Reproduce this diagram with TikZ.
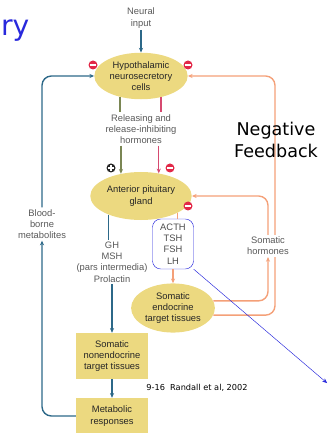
\documentclass[tikz,border=0pt]{standalone}
\usepackage{fontspec}
\setmainfont{Liberation Sans}
\newfontfamily\handfont{DejaVu Sans}
\usetikzlibrary{shapes.geometric,arrows.meta}
\definecolor{glandfill}{RGB}{236,217,128}
\definecolor{fbblue}{RGB}{44,104,136}
\definecolor{fborange}{RGB}{244,160,120}
\definecolor{fbolive}{RGB}{122,134,84}
\definecolor{fbpink}{RGB}{214,74,112}
\definecolor{minusred}{RGB}{226,40,72}
\definecolor{annblue}{RGB}{40,40,220}
\begin{document}
\begin{tikzpicture}[x=0.03cm,y=-0.03cm,>={Stealth[length=4pt,width=3.5pt]},
  txt/.style={font=\fontsize{8}{9.6}\selectfont,align=center,inner sep=1.5pt},
  lbl/.style={txt,text=black!65},
  gland/.style={ellipse,fill=glandfill,inner sep=0pt,txt,text=black!85},
  tissue/.style={rectangle,fill=glandfill,inner sep=0pt,txt,text=black!85},
  minus/.style={circle,fill=minusred,minimum size=0.27cm,inner sep=0pt,
    path picture={\draw[white,line width=1.2pt] (-2.3pt,0) -- (2.3pt,0);}},
  plus/.style={circle,fill=black!85,minimum size=0.27cm,inner sep=0pt,
    path picture={\draw[white,line width=1.2pt] (-2.3pt,0) -- (2.3pt,0) (0,-2.3pt) -- (0,2.3pt);}},
  fb/.style={line width=1.2pt,rounded corners=8pt},
  hand/.style={font=\handfont\fontsize{15}{19}\selectfont,align=center}]
\path[use as bounding box] (0,0) rectangle (331,433);

\node[gland,minimum width=2.46cm,minimum height=1.28cm] (hypo) at (141,76) {Hypothalamic\\neurosecretory\\cells};
\node[gland,minimum width=2.46cm,minimum height=1.44cm] (pit) at (141,196) {Anterior pituitary\\gland};
\node[gland,minimum width=2.43cm,minimum height=1.36cm] (endo) at (173,308) {Somatic\\endocrine\\target tissues};
\node[tissue,minimum width=2.16cm,minimum height=1.38cm] (nonendo) at (112,356) {Somatic\\nonendocrine\\target tissues};
\node[tissue,minimum width=2.16cm,minimum height=1.08cm] (metab) at (112,416) {Metabolic\\responses};

% feedback to the hypothalamus
\coordinate (outer) at (275,76);
\path[draw,fb,fborange,->] (endo.-10) -| (outer) -- (hypo.east);

\node[lbl] (neural) at (141,18) {Neural\\input};
\node[lbl] (rel) at (141,129) {Releasing and\\release-inhibiting\\hormones};
\node[lbl] (blood) at (42,224) {Blood-\\borne\\metabolites};
\node[lbl] (gh) at (112,262) {GH\\MSH\\(pars intermedia)\\Prolactin};
\node[lbl,text=black!70,draw=annblue,thin,rounded corners=7pt,minimum width=1.23cm,minimum height=1.5cm] (acth) at (173,244) {ACTH\\TSH\\FSH\\LH};
\node[lbl,fill=white] (somh) at (268,246) {Somatic\\hormones};

\node[minus] (m1) at (93,65) {};
\node[minus] (m2) at (188,65) {};
\node[plus] (p1) at (111,168) {};
\node[minus] (m3) at (170,168) {};
\node[minus] (m4) at (188,206) {};

\path[draw,fb,fbblue,->] (neural) -- (hypo);
\path[draw,fb,fbblue,->] (metab.west) -| (blood.south);
\path[draw,fb,fbblue,->] (blood.north) |- (hypo.west);

\path[draw,fb,fbolive] (hypo.-135) -- (hypo.-135 |- rel.north);
\path[draw,fb,fbpink] (hypo.-47) -- (hypo.-47 |- rel.north);
\path[draw,fb,fbolive,->] (rel.south -| pit.132) -- (pit.132);
\path[draw,fb,fbpink,->] (rel.south -| pit.52) -- (pit.52);

\path[draw,fb,fbblue] (pit.-150) -- (pit.-150 |- gh.north);
\path[draw,fb,fbblue,->] (gh.south) -- (nonendo.north);
\path[draw,fb,fbblue,->] (nonendo) -- (metab);

\path[draw,fb,fborange] (pit.-25) -- (pit.-25 |- acth.north);
\path[draw,fb,fborange,->] (acth.south) -- (endo.north);
\path[draw,fb,fborange,->] (endo.10) -| (somh.south);
\path[draw,fb,fborange,->] (somh.north) |- (pit.east);

\coordinate (annend) at (327,383);
\path[draw,annblue,thin,->] (acth.south east) -- (annend);

\node[hand] (negfb) at (276,140) {Negative\\Feedback};
\node[anchor=west,font=\handfont\fontsize{24}{24}\selectfont,text=annblue] (title) at (-3,31) {ry};
\node[font=\handfont\fontsize{7}{8}\selectfont] (cite) at (197,388) {9-16\ \ Randall et al, 2002};
\end{tikzpicture}
\end{document}
